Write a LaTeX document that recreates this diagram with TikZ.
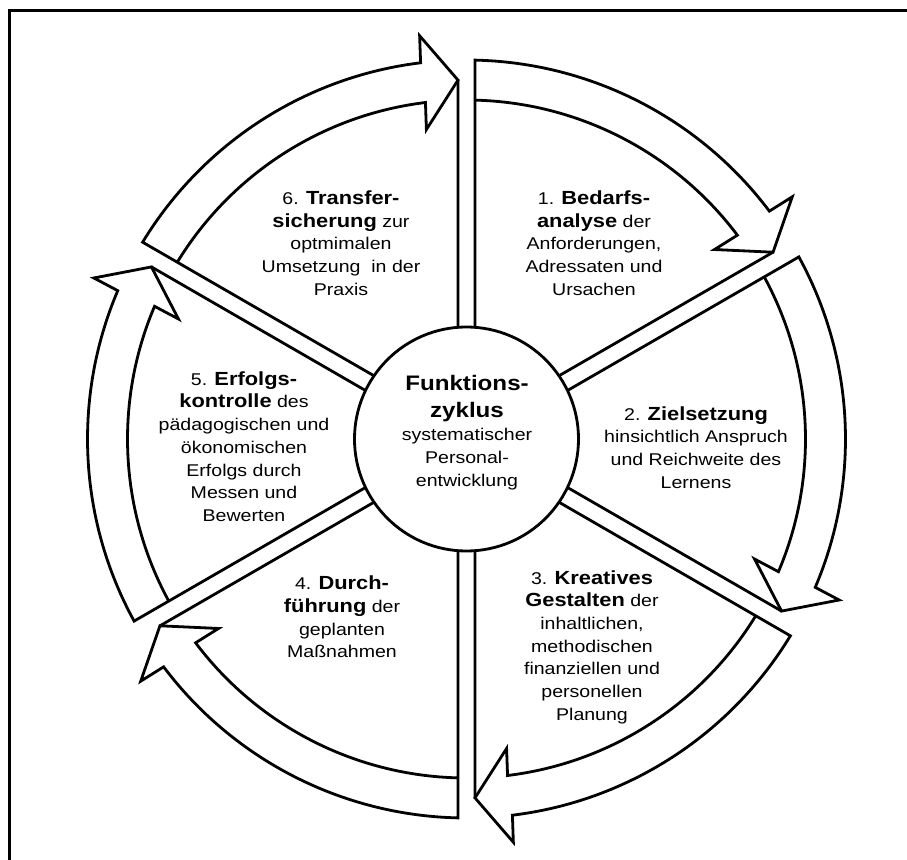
\documentclass[tikz,border=0pt]{standalone}
\usepackage{fontspec}
\setmainfont{Liberation Sans}[FakeStretch=1.15]
\usetikzlibrary{calc}
\tikzset{
  outline/.style={line width=2.8pt, line join=miter, miter limit=10},
  sectxt/.style={align=center, inner sep=0pt, font=\fontsize{17}{22.7}\selectfont},
  hubtxt/.style={align=center, inner sep=0pt, font=\fontsize{17}{23}\selectfont},
  hub/.style={draw, circle, line width=2.8pt, minimum size=224pt, inner sep=0pt},
  frame/.style={line width=3pt}
}
\newcommand\kw[1]{{\fontsize{19}{22.7}\selectfont\bfseries #1}}
\newcommand\hubkw[1]{{\fontsize{21}{28}\selectfont\bfseries #1}}
\begin{document}
\begin{tikzpicture}[x=1pt,y=1pt]
\useasboundingbox (-466.5,-420) rectangle (440.5,439);
\coordinate (fa) at (-457,-430);
\coordinate (fb) at (-457,428);
\coordinate (fc) at (450,428);
\draw[frame] (fa) -- (fb) -- (fc);
% radii and angular offsets of the 8.5pt half gap
\def\Rc{112}\def\Ri{339}\def\Ro{379}\def\Rm{359}
\def\dc{4.352}\def\di{1.4368}\def\do{1.2851}\def\dm{1.3567}
\foreach \a [count=\k] in {90,30,-30,-90,-150,-210} {
  \pgfmathsetmacro\b{\a-60}
  \pgfmathsetmacro\t{\b+\dm}
  \pgfmathsetmacro\h{\b+\dm+5.6}
  \pgfmathsetmacro\sa{\a-\do}
  \pgfmathsetmacro\si{\a-\di}
  \pgfmathsetmacro\lc{\a-\dc}
  \pgfmathsetmacro\tc{\b+\dc}
  \coordinate (T\k) at (\t:\Rm pt);
  \coordinate (B\k) at (\h:\Rm pt);
  \coordinate (L\k) at (\lc:\Rc pt);
  \coordinate (E\k) at (\tc:\Rc pt);
  \coordinate (Wo\k) at ($(B\k)!47pt!90:(T\k)$);
  \coordinate (Wi\k) at ($(B\k)!47pt!-90:(T\k)$);
  \draw[outline] (L\k) -- (\sa:\Ro pt)
     arc[start angle=\sa, end angle=\h, radius=\Ro pt]
     -- (Wo\k) -- (T\k) -- (Wi\k) -- (\h:\Ri pt)
     arc[start angle=\h, end angle=\si, radius=\Ri pt];
  \draw[outline] (T\k) -- (E\k);
}
\node[hub] (hub) at (0,0) {};
\node[hubtxt] (hubtext) at (0.5,6) {\hubkw{Funktions-}\\[4pt]\hubkw{zyklus}\\systematischer\\Personal-\\entwicklung};
\node[sectxt] (s1) at (127.5,196) {1. \kw{Bedarfs-}\\\kw{analyse} der\\Anforderungen,\\Adressaten und\\Ursachen};
\node[sectxt] (s2) at (229.5,-8.5) {2. \kw{Zielsetzung}\\hinsichtlich Anspruch\\und Reichweite des\\Lernens};
\node[sectxt] (s3) at (125.5,-208) {3. \kw{Kreatives}\\\kw{Gestalten} der\\inhaltlichen,\\methodischen\\finanziellen und\\personellen\\Planung};
\node[sectxt] (s4) at (-124.5,-178) {4. \kw{Durch-}\\\kw{führung} der\\geplanten\\Maßnahmen};
\node[sectxt] (s5) at (-222.5,-7.5) {5. \kw{Erfolgs-}\\\kw{kontrolle} des\\pädagogischen und\\ökonomischen\\Erfolgs durch\\Messen und\\Bewerten};
\node[sectxt] (s6) at (-125.5,196) {6. \kw{Transfer-}\\\kw{sicherung} zur\\optmimalen\\Umsetzung~ in der\\Praxis};
\end{tikzpicture}
\end{document}
